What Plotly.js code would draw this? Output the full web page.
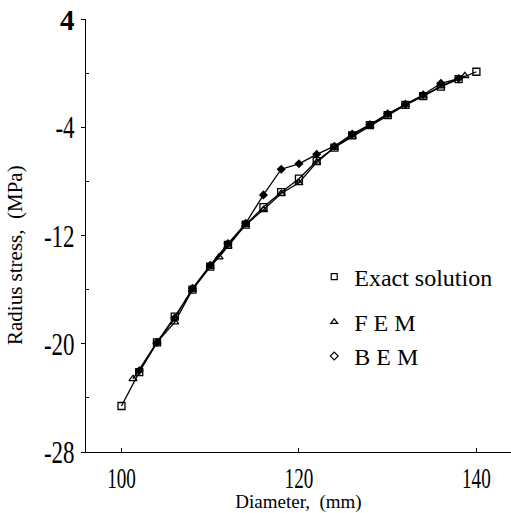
<!DOCTYPE html>
<html><head><meta charset="utf-8">
<script src="https://cdn.plot.ly/plotly-3.0.1.min.js"></script>
<style>html,body{margin:0;padding:0;background:#fff}</style>
</head><body><div id="chart" style="width:511px;height:513px"></div>
<script>
var exactX = [100,102,104,106,108,110,112,114,116,118,120,122,124,126,128,130,132,134,136,138,140];
var exactY = [-24.6,-22.1,-19.9,-18.0,-16.0,-14.3,-12.7,-11.2,-9.9,-8.8,-7.8,-6.5,-5.5,-4.6,-3.85,-3.1,-2.35,-1.7,-1.0,-0.45,0.1];
var femX = [101.3,104,106,108,110,111,112,114,116,118,120,122,124,126,128,130,132,134,136,138.7];
var femY = [-22.6,-19.9,-18.4,-16.0,-14.3,-13.6,-12.8,-11.2,-10.1,-8.9,-8.1,-6.6,-5.5,-4.7,-3.9,-3.1,-2.35,-1.7,-0.95,-0.2];
var bemX = [102,104,106,108,110,112,114,116,118,120,122,124,126,128,130,132,134,136,138];
var bemY = [-22.0,-19.9,-18.1,-15.9,-14.2,-12.6,-11.1,-9.0,-7.1,-6.7,-6.0,-5.4,-4.5,-3.8,-3.0,-2.3,-1.6,-0.75,-0.4];
var seriesNames = ["Exact solution","F E M","B E M"];
var yTickVals = [4,-4,-12,-20,-28];
var yTickText = ["<b><span style='font-size:29px'>4</span></b>","-4","-12","-20","-28"];
var xTickVals = [100,120,140];
var xTickText = ["100","120","140"];

var serif = "'Liberation Serif', 'Times New Roman', serif";
var lineStyle = {color:"#000", width:1.3};
var traces = [
  {x:exactX, y:exactY, mode:"lines+markers", line:lineStyle, showlegend:false,
   marker:{symbol:"square-open", size:7, color:"#000", line:{width:1.3}}},
  {x:femX, y:femY, mode:"lines+markers", line:lineStyle, showlegend:false,
   marker:{symbol:"triangle-up-open", size:7, color:"#000", line:{width:1.3}}},
  {x:bemX, y:bemY, mode:"lines+markers", line:lineStyle, showlegend:false,
   marker:{symbol:"diamond", size:7, color:"#000"}},
  {x:[null], y:[null], mode:"markers", name:seriesNames[0], legendgroup:"a",
   marker:{symbol:"square-open", size:6, color:"#000", line:{width:1.2}}},
  {x:[null], y:[null], mode:"markers", name:seriesNames[1], legendgroup:"b",
   marker:{symbol:"triangle-up-open", size:6, color:"#000", line:{width:1.2}}},
  {x:[null], y:[null], mode:"markers", name:seriesNames[2], legendgroup:"b",
   marker:{symbol:"diamond-open", size:6, color:"#000", line:{width:1.2}}}
];
var layout = {
  width:511, height:513,
  margin:{l:86, r:0, t:19, b:61},
  paper_bgcolor:"#fff", plot_bgcolor:"#fff",
  font:{family:serif, color:"#000"},
  showlegend:true,
  legend:{x:0.537, y:0.456, xanchor:"left", yanchor:"top", bgcolor:"rgba(0,0,0,0)",
          font:{family:serif, size:24, color:"#000"}, traceorder:"grouped", tracegroupgap:11,
          itemwidth:30},
  xaxis:{range:[96,143.9], showgrid:false, zeroline:false, showline:true, linecolor:"#000", linewidth:1,
         tickmode:"array", tickvals:xTickVals, ticktext:xTickText, ticks:"inside", ticklen:4, tickcolor:"#000",
         tickfont:{family:serif, size:29, color:"#000"}, automargin:false,
         title:{text:"Diameter,  (mm)", font:{family:serif, size:19, color:"#000"}, standoff:3}},
  yaxis:{range:[-28,4], showgrid:false, zeroline:false, showline:true, linecolor:"#000", linewidth:1,
         tickmode:"array", tickvals:yTickVals, ticktext:yTickText, ticks:"outside", ticklen:4, tickcolor:"#000",
         tickfont:{family:serif, size:32, color:"#000"}, automargin:false,
         minor:{tickvals:[0,-8,-16,-24], ticks:"inside", ticklen:3, tickcolor:"#000"}},
  annotations:[{text:"Radius stress,  (MPa)", textangle:-90, xref:"paper", yref:"paper",
                x:0, y:0.455, xanchor:"center", yanchor:"middle", xshift:-71, showarrow:false,
                font:{family:serif, size:21, color:"#000"}}]
};
Plotly.newPlot("chart", traces, layout, {displayModeBar:false, staticPlot:true}).then(function(){
  function squeeze(sel, s, anchorRight){
    document.querySelectorAll(sel).forEach(function(t){
      if (t.textContent.trim() === "4") return;
      var b = t.getBBox();
      var cx = anchorRight ? b.x + b.width : b.x + b.width/2;
      var cy = b.y + b.height/2;
      var old = t.getAttribute("transform") || "";
      t.setAttribute("transform", old + " translate(" + cx + "," + cy + ") scale(" + s + ",1) translate(" + (-cx) + "," + (-cy) + ")");
    });
  }
  squeeze(".xtick text", 0.66, false);
  squeeze(".ytick text", 0.72, true);
});
</script></body></html>
